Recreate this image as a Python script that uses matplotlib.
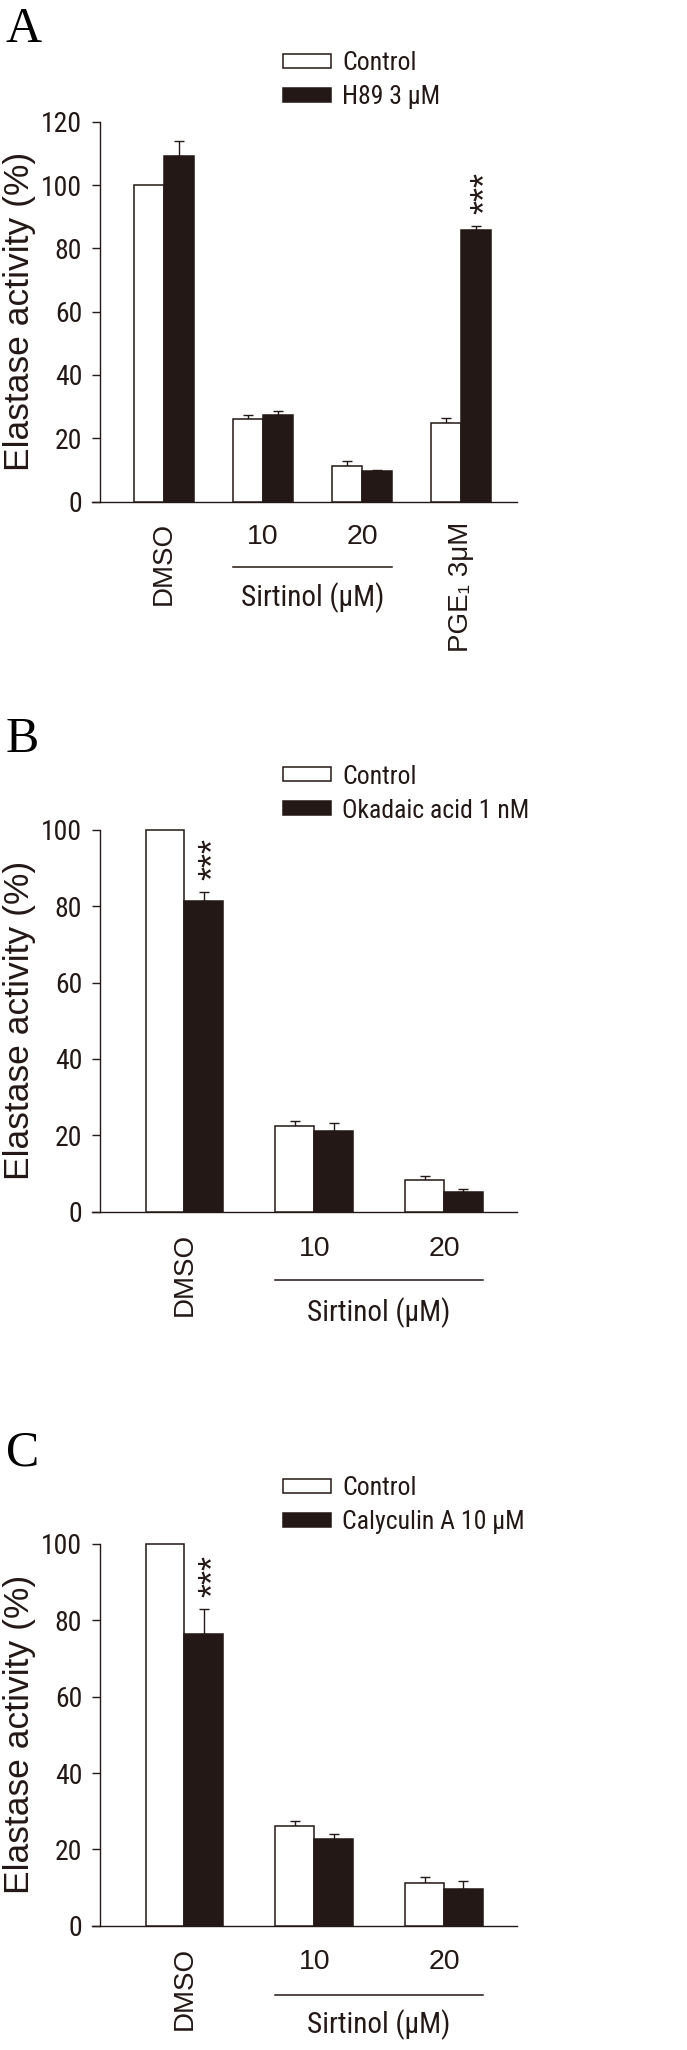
import matplotlib
matplotlib.use('Agg')
import matplotlib.pyplot as plt
import numpy as np

# ---------------- data ----------------
control_label = 'Control'
ylabel_text = 'Elastase activity (%)'
sirtinol_label = 'Sirtinol (μM)'

A_categories = ['DMSO', '10', '20', 'PGE₁ 3μM']
A_rotated = [0, 3]
A_sirtinol = [1, 2]
A_control = [100, 26.2, 11.2, 24.9]
A_control_err = [0, 1.1, 1.5, 1.4]
A_treat = [109.3, 27.3, 9.5, 85.7]
A_treat_err = [4.6, 1.3, 0.5, 1.3]
A_treat_label = 'H89 3 μM'
A_stars = [3]
A_yticks = [0, 20, 40, 60, 80, 100, 120]

B_categories = ['DMSO', '10', '20']
B_rotated = [0]
B_sirtinol = [1, 2]
B_control = [100, 22.5, 8.3]
B_control_err = [0, 1.2, 1.1]
B_treat = [81.4, 21.2, 5.1]
B_treat_err = [2.4, 2.0, 0.8]
B_treat_label = 'Okadaic acid 1 nM'
B_stars = [0]
B_yticks = [0, 20, 40, 60, 80, 100]

C_categories = ['DMSO', '10', '20']
C_rotated = [0]
C_sirtinol = [1, 2]
C_control = [100, 26.1, 11.1]
C_control_err = [0, 1.3, 1.7]
C_treat = [76.3, 22.7, 9.5]
C_treat_err = [6.6, 1.2, 2.2]
C_treat_label = 'Calyculin A 10 μM'
C_stars = [0]
C_yticks = [0, 20, 40, 60, 80, 100]

# ---------------- style ----------------
W, H = 687, 2050
DARK = '#231815'
EDGE = '#231815'
NARROW = ['Roboto Condensed', 'Liberation Sans', 'DejaVu Sans']
REG = ['Liberation Sans', 'DejaVu Sans']
SERIF = ['Liberation Serif', 'DejaVu Serif']

fig = plt.figure(figsize=(W / 100, H / 100), dpi=100)


def px_rect(left, top, right, bottom):
    return [left / W, 1 - bottom / H, (right - left) / W, (bottom - top) / H]


def panel(letter, letter_base, rect, xlim, categories, rotated, sirt,
          ctrl, ctrl_err, trt, trt_err, trt_label, stars, yticks,
          leg_top, offs):
    ax = fig.add_axes(px_rect(*rect))
    ax_h = rect[3] - rect[1]
    ax_w = rect[2] - rect[0]
    n = len(categories)
    x = np.arange(n)
    w = 0.3
    ctrl = np.asarray(ctrl, float)
    trt = np.asarray(trt, float)
    ctrl_err = np.asarray(ctrl_err, float)
    trt_err = np.asarray(trt_err, float)
    b1 = ax.bar(x - w / 2, ctrl, w, color='white', edgecolor=EDGE,
                linewidth=1.1, zorder=3, clip_on=False, label=control_label)
    b2 = ax.bar(x + w / 2, trt, w, color=DARK, edgecolor=EDGE,
                linewidth=1.1, zorder=3, clip_on=False, label=trt_label)
    for xs, vals, errs in ((x - w / 2, ctrl, ctrl_err), (x + w / 2, trt, trt_err)):
        m = errs > 0
        ax.errorbar(xs[m], vals[m], yerr=[np.zeros(m.sum()), errs[m]],
                    fmt='none', ecolor=EDGE, elinewidth=1.0, capsize=3.8,
                    capthick=1.0, zorder=2, clip_on=False)
    for i in stars:
        ax.annotate('***', xy=(x[i] + w / 2, trt[i] + trt_err[i]),
                    xytext=(8, 8.5), textcoords='offset points',
                    rotation=90, ha='center', va='bottom',
                    fontsize=26, family=REG, color=EDGE)
    ax.set_xlim(*xlim)
    ax.set_ylim(yticks[0], yticks[-1])
    ax.set_yticks(yticks)
    ax.set_xticks([])
    for s in ('top', 'right'):
        ax.spines[s].set_visible(False)
    ax.spines['left'].set_position(('axes', 8 / ax_w))
    for s in ('left', 'bottom'):
        ax.spines[s].set_linewidth(1.0)
        ax.spines[s].set_color(EDGE)
    ax.tick_params(axis='y', direction='out', length=5.8, width=1.0,
                   color=EDGE, pad=7, labelsize=20, labelcolor=EDGE)
    for lab in ax.get_yticklabels():
        lab.set_family(NARROW)
    ax.set_ylabel(ylabel_text, fontsize=25.5, family=REG, color=EDGE)
    ax.yaxis.set_label_coords((36 - rect[0]) / ax_w, 0.5)

    xt = ax.get_xaxis_transform()
    d_rot, d_num, d_line, d_sirt = offs
    pt = 72 / 100
    for i in rotated:
        ax.annotate(categories[i], xy=(x[i], 0), xycoords=xt,
                    xytext=(0, -d_rot * pt), textcoords='offset points',
                    rotation=90, ha='center', va='top', fontsize=20,
                    family=REG, color=EDGE)
    for i in sirt:
        ax.annotate(categories[i], xy=(x[i], 0), xycoords=xt,
                    xytext=(0, -d_num * pt), textcoords='offset points',
                    ha='center', va='center', fontsize=20.5, family=REG,
                    color=EDGE)
    x0 = x[sirt[0]] - w
    x1 = x[sirt[-1]] + w
    ax.plot([x0, x1], [-d_line / ax_h] * 2, transform=xt, clip_on=False,
            color=EDGE, lw=1.1)
    ax.annotate(sirtinol_label, xy=((x[sirt[0]] + x[sirt[-1]]) / 2, 0),
                xycoords=xt, xytext=(0, -d_sirt * pt),
                textcoords='offset points', ha='center', va='center',
                fontsize=21, family=NARROW, color=EDGE)

    leg = ax.legend(handles=[b1, b2], labels=[control_label, trt_label],
                    loc='upper left', bbox_to_anchor=(283 / W, 1 - leg_top / H),
                    bbox_transform=fig.transFigure, frameon=False,
                    prop={'family': NARROW, 'size': 18.5},
                    handlelength=1.87, handleheight=0.47, handletextpad=0.43,
                    borderpad=0, borderaxespad=0, labelspacing=0.39)
    for t in leg.get_texts():
        t.set_color(EDGE)

    fig.text(6 / W, 1 - letter_base / H, letter, fontsize=36, family=SERIF,
             ha='left', va='baseline', color='black')
    return ax


panel('A', 42, (92, 121.7, 517, 501.5), (-0.727, 3.566), A_categories,
      A_rotated, A_sirtinol, A_control, A_control_err, A_treat, A_treat_err,
      A_treat_label, A_stars, A_yticks, 51, (20, 36, 65, 96))
panel('B', 752, (92, 830, 517, 1211.6), (-0.713, 2.563), B_categories,
      B_rotated, B_sirtinol, B_control, B_control_err, B_treat, B_treat_err,
      B_treat_label, B_stars, B_yticks, 764.5, (21, 37, 68, 101))
panel('C', 1465, (92, 1544, 517, 1925.7), (-0.713, 2.563), C_categories,
      C_rotated, C_sirtinol, C_control, C_control_err, C_treat, C_treat_err,
      C_treat_label, C_stars, C_yticks, 1476, (21, 36, 69, 99))

fig.savefig('out.png', dpi=100, facecolor='white')
